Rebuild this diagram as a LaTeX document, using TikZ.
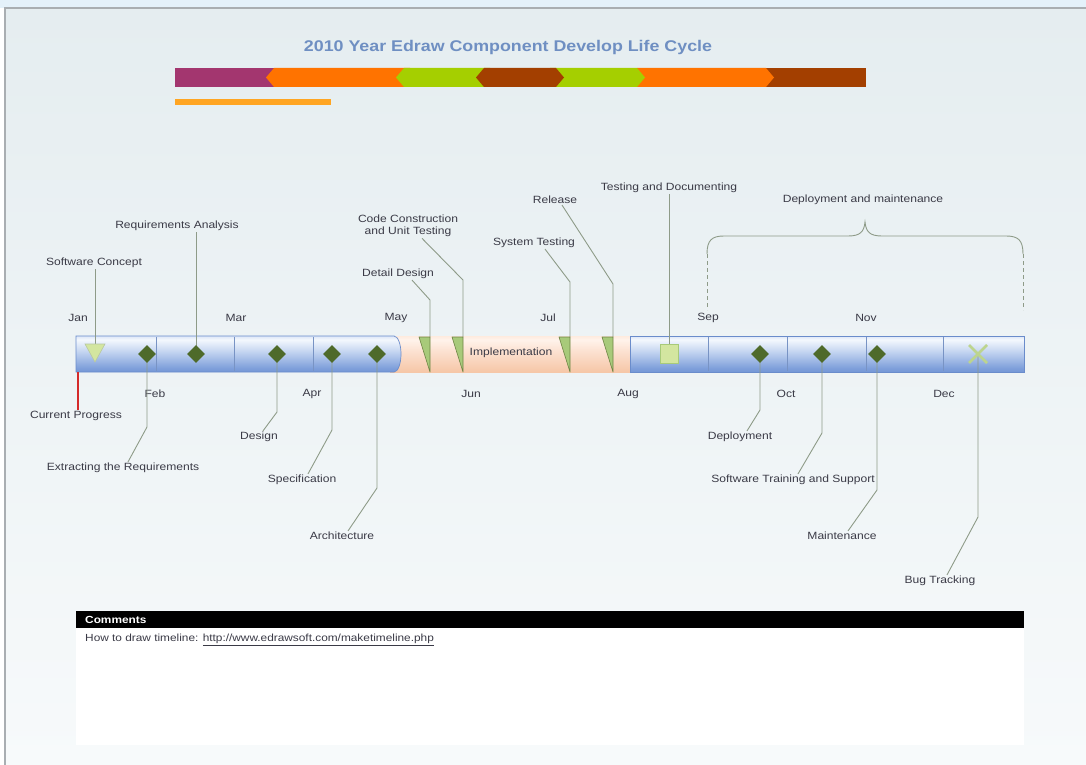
\documentclass[tikz,border=0pt]{standalone}
\usepackage{fontspec}
\setmainfont[FakeStretch=1.15]{Liberation Sans}
\usetikzlibrary{shapes.geometric,calc}
\definecolor{txt}{HTML}{3A3A46}
\definecolor{titlec}{HTML}{6F8FC2}
\definecolor{connc}{HTML}{8E9B88}
\definecolor{diamc}{HTML}{4E6A2A}
\definecolor{magc}{HTML}{A3366F}
\definecolor{orc}{HTML}{FF7300}
\definecolor{limec}{HTML}{A5CF00}
\definecolor{brc}{HTML}{A33F00}
\definecolor{ylc}{HTML}{FFA522}
\definecolor{divc}{HTML}{7893C4}
\definecolor{trig}{HTML}{A8CA7A}
\definecolor{trid}{HTML}{6F8445}
\definecolor{sqc}{HTML}{D3E6A0}
\definecolor{xc}{HTML}{BCD48E}
\definecolor{bgtop}{HTML}{E5EDF0}
\definecolor{bgbot}{HTML}{F7FAFB}
\definecolor{framec}{HTML}{A9AEB2}
\definecolor{stripc}{HTML}{E4F1FA}
\definecolor{redc}{HTML}{D42A2A}
\definecolor{edgec}{HTML}{6A8CCB}
\definecolor{bA}{HTML}{4F78C0}
\definecolor{bB}{HTML}{7D9EDA}
\definecolor{bC}{HTML}{C8D8F2}
\definecolor{bD}{HTML}{F4F8FD}
\definecolor{bE}{HTML}{A8C0EA}
\definecolor{bF}{HTML}{5A80C6}
\definecolor{pA}{HTML}{EFB287}
\definecolor{pB}{HTML}{F7CBAE}
\definecolor{pC}{HTML}{FCE2D2}
\definecolor{pD}{HTML}{FFF3EB}
\definecolor{pE}{HTML}{FAD6BE}
\definecolor{pF}{HTML}{F1B890}
\pgfdeclareverticalshading{bluebar}{100bp}{color(0bp)=(bA); color(30bp)=(bB); color(55bp)=(bC); color(70bp)=(bD); color(86bp)=(bE); color(100bp)=(bF)}
\pgfdeclareverticalshading{peachbar}{100bp}{color(0bp)=(pA); color(30bp)=(pB); color(55bp)=(pC); color(70bp)=(pD); color(88bp)=(pE); color(100bp)=(pF)}
\begin{document}
\begin{tikzpicture}[x=1pt,y=-1pt,
  lbl/.style={text=txt,font=\fontsize{10.5}{12.5}\selectfont,inner sep=1pt,align=center},
  conn/.style={draw=connc,line width=0.9pt},
  diam/.style={diamond,fill=diamc,minimum width=18pt,minimum height=18pt,inner sep=0pt},
  tri/.style={fill=trig,draw=trid,line width=0.6pt,line join=round},
  divl/.style={draw=divc,line width=0.7pt},
  bluebox/.style={shading=bluebar,draw=edgec,line width=0.7pt}]
\useasboundingbox (0,0) rectangle (1086,765);
% background
\fill[white] (0,0) rectangle (1086,765);
\fill[stripc] (0,0) rectangle (1086,8);
\shade[top color=bgtop,bottom color=bgbot] (5,8) rectangle (1086,765);
\draw[framec,line width=1.2pt] (5,765) -- (5,8) -- (1086,8);

% title
\node[text=titlec,font=\fontsize{15.5}{19}\bfseries\selectfont,inner sep=0pt] (title) at (508,47) {2010 Year Edraw Component Develop Life Cycle};

% color bar
\fill[magc] (175,68) rectangle (280,87);
\fill[orc] (266,77.5) -- (274,68) -- (410,68) -- (410,87) -- (274,87) -- cycle;
\fill[limec] (396,77.5) -- (404,68) -- (490,68) -- (490,87) -- (404,87) -- cycle;
\fill[brc] (760,68) rectangle (866,87);
\fill[orc] (637,68) -- (766,68) -- (774,77.5) -- (766,87) -- (637,87) -- cycle;
\fill[limec] (550,68) -- (637,68) -- (645,77.5) -- (637,87) -- (550,87) -- cycle;
\fill[brc] (476,77.5) -- (484,68) -- (556,68) -- (564,77.5) -- (556,87) -- (484,87) -- cycle;
\fill[ylc] (175,99) rectangle (331,105);

% main timeline bar
\shade[shading=peachbar] (390,336) rectangle (632,372);
\shadedraw[bluebox] (630,336) rectangle (1024,372);
\shadedraw[bluebox] (76,336) -- (394,336) arc[start angle=-90,end angle=90,x radius=7,y radius=18] -- (76,372) -- cycle;
\foreach \xx in {156,234,313,708,787,866,943} \draw[divl] (\xx,337) -- (\xx,371);
\node[lbl] (impl) at (511,353) {Implementation};

% month labels
\node[lbl] (jan) at (78,318) {Jan};
\node[lbl] (mar) at (236,318) {Mar};
\node[lbl] (may) at (396,318) {May};
\node[lbl] (jul) at (548,318) {Jul};
\node[lbl] (sep) at (708,318) {Sep};
\node[lbl] (nov) at (866,318) {Nov};
\node[lbl] (feb) at (155,394) {Feb};
\node[lbl] (apr) at (312,394) {Apr};
\node[lbl] (jun) at (471,394) {Jun};
\node[lbl] (aug) at (628,394) {Aug};
\node[lbl] (oct) at (786,394) {Oct};
\node[lbl] (dec) at (944,394) {Dec};

% event labels
\node[lbl] (lSC) at (94,263) {Software Concept};
\node[lbl] (lRA) at (177,226) {Requirements Analysis};
\node[lbl] (lCP) at (76,416) {Current Progress};
\node[lbl] (lEx) at (123,468) {Extracting the Requirements};
\node[lbl] (lDes) at (259,437) {Design};
\node[lbl] (lSpec) at (302,480) {Specification};
\node[lbl] (lArch) at (342,536) {Architecture};
\node[lbl] (lDD) at (398,274) {Detail Design};
\node[lbl] (lCC) at (408,226) {Code Construction\\and Unit Testing};
\node[lbl] (lST) at (534,243) {System Testing};
\node[lbl] (lRel) at (555,200) {Release};
\node[lbl] (lTD) at (669,188) {Testing and Documenting};
\node[lbl] (lDM) at (863,200) {Deployment and maintenance};
\node[lbl] (lDep) at (740,437) {Deployment};
\node[lbl] (lTr) at (793,480) {Software Training and Support};
\node[lbl] (lMa) at (842,536) {Maintenance};
\node[lbl] (lBug) at (940,581) {Bug Tracking};

% marker positions
\coordinate (cJan) at (95,352);
\coordinate (cFeb) at (147,354);
\coordinate (cReq) at (196,354);
\coordinate (cDes) at (277,354);
\coordinate (cSpec) at (332,354);
\coordinate (cArch) at (377,354);
\coordinate (tDD) at (430,337);
\coordinate (tCC) at (463,337);
\coordinate (tST) at (570,337);
\coordinate (tRel) at (613,337);
\coordinate (cTD) at (669,354);
\coordinate (cDep) at (760,354);
\coordinate (cTr) at (822,354);
\coordinate (cMa) at (877,354);
\coordinate (cBug) at (978,354);
\coordinate (cCP) at (78,372);

% connectors
\draw[conn] (cJan) -- (lSC.south -| cJan);
\draw[conn] (cReq) -- (lRA.south -| cReq);
\draw[conn] (cFeb) -- ($(cFeb)+(0,73)$) -- ($(lEx.north)+(5,0)$);
\draw[conn] (cDes) -- ($(cDes)+(0,58)$) -- ($(lDes.north)+(4,0)$);
\draw[conn] (cSpec) -- ($(cSpec)+(0,76)$) -- ($(lSpec.north)+(6,0)$);
\draw[conn] (cArch) -- ($(cArch)+(0,134)$) -- ($(lArch.north)+(6,0)$);
\draw[conn] (tDD) -- ($(tDD)+(0,-37)$) -- ($(lDD.south)+(14,0)$);
\draw[conn] (tCC) -- ($(tCC)+(0,-57)$) -- ($(lCC.south)+(14,0)$);
\draw[conn] (tST) -- ($(tST)+(0,-55)$) -- ($(lST.south)+(11,0)$);
\draw[conn] (tRel) -- ($(tRel)+(0,-53)$) -- ($(lRel.south)+(7,0)$);
\draw[conn] (cTD) -- (lTD.south -| cTD);
\draw[conn] (cDep) -- ($(cDep)+(0,56)$) -- ($(lDep.north)+(7,0)$);
\draw[conn] (cTr) -- ($(cTr)+(0,79)$) -- ($(lTr.north)+(5,0)$);
\draw[conn] (cMa) -- ($(cMa)+(0,136)$) -- ($(lMa.north)+(6,0)$);
\draw[conn] (cBug) -- ($(cBug)+(0,163)$) -- ($(lBug.north)+(7,0)$);
\draw[redc,line width=2.4pt] (cCP) -- (lCP.north -| cCP);

% brace
\coordinate (bL) at (707,254);
\coordinate (bR) at (1023,254);
\coordinate (bL2) at (707,310);
\coordinate (bR2) at (1023,310);
\draw[conn] (bL) .. controls (707,240) and (712,236) .. (724,236) -- (848,236)
  .. controls (860,236) and (864,232) .. (865,222)
  .. controls (866,232) and (870,236) .. (882,236) -- (1006,236)
  .. controls (1018,236) and (1023,240) .. (bR);
\draw[conn,dashed,dash pattern=on 4pt off 3pt] (bL) -- (bL2);
\draw[conn,dashed,dash pattern=on 4pt off 3pt] (bR) -- (bR2);

% markers
\draw[fill=sqc,draw=trig!80!black!60,line width=0.6pt] ($(cJan)+(-10,-8)$) -- ($(cJan)+(10,-8)$) -- ($(cJan)+(0,10)$) -- cycle;
\node[diam] (mFeb) at (cFeb) {};
\node[diam] (mReq) at (cReq) {};
\node[diam] (mDes) at (cDes) {};
\node[diam] (mSpec) at (cSpec) {};
\node[diam] (mArch) at (cArch) {};
\node[diam] (mDep) at (cDep) {};
\node[diam] (mTr) at (cTr) {};
\node[diam] (mMa) at (cMa) {};
\draw[tri] ($(tDD)+(-11,0)$) -- (tDD) -- ($(tDD)+(0,35)$) -- cycle;
\draw[tri] ($(tCC)+(-11,0)$) -- (tCC) -- ($(tCC)+(0,35)$) -- cycle;
\draw[tri] ($(tST)+(-11,0)$) -- (tST) -- ($(tST)+(0,35)$) -- cycle;
\draw[tri] ($(tRel)+(-11,0)$) -- (tRel) -- ($(tRel)+(0,35)$) -- cycle;
\node[rectangle,fill=sqc,draw=trig,line width=0.6pt,minimum width=18pt,minimum height=19pt,inner sep=0pt] (mTD) at (cTD) {};
\draw[xc,line width=2.6pt] ($(cBug)+(-9,-9)$) -- ($(cBug)+(9,9)$);
\draw[xc,line width=2.6pt] ($(cBug)+(-9,9)$) -- ($(cBug)+(9,-9)$);

% comments box
\fill[white] (76,628) rectangle (1024,745);
\fill[black] (76,611) rectangle (1024,628);
\node[anchor=west,text=white,font=\fontsize{10.3}{12}\bfseries\selectfont,inner sep=0pt] (cmt) at (85,619.5) {Comments};
\node[anchor=west,text=txt,font=\fontsize{10.3}{12}\selectfont,inner sep=0pt] (how) at (85,640) {How to draw timeline: \underline{http://www.edrawsoft.com/maketimeline.php}};
\end{tikzpicture}
\end{document}
